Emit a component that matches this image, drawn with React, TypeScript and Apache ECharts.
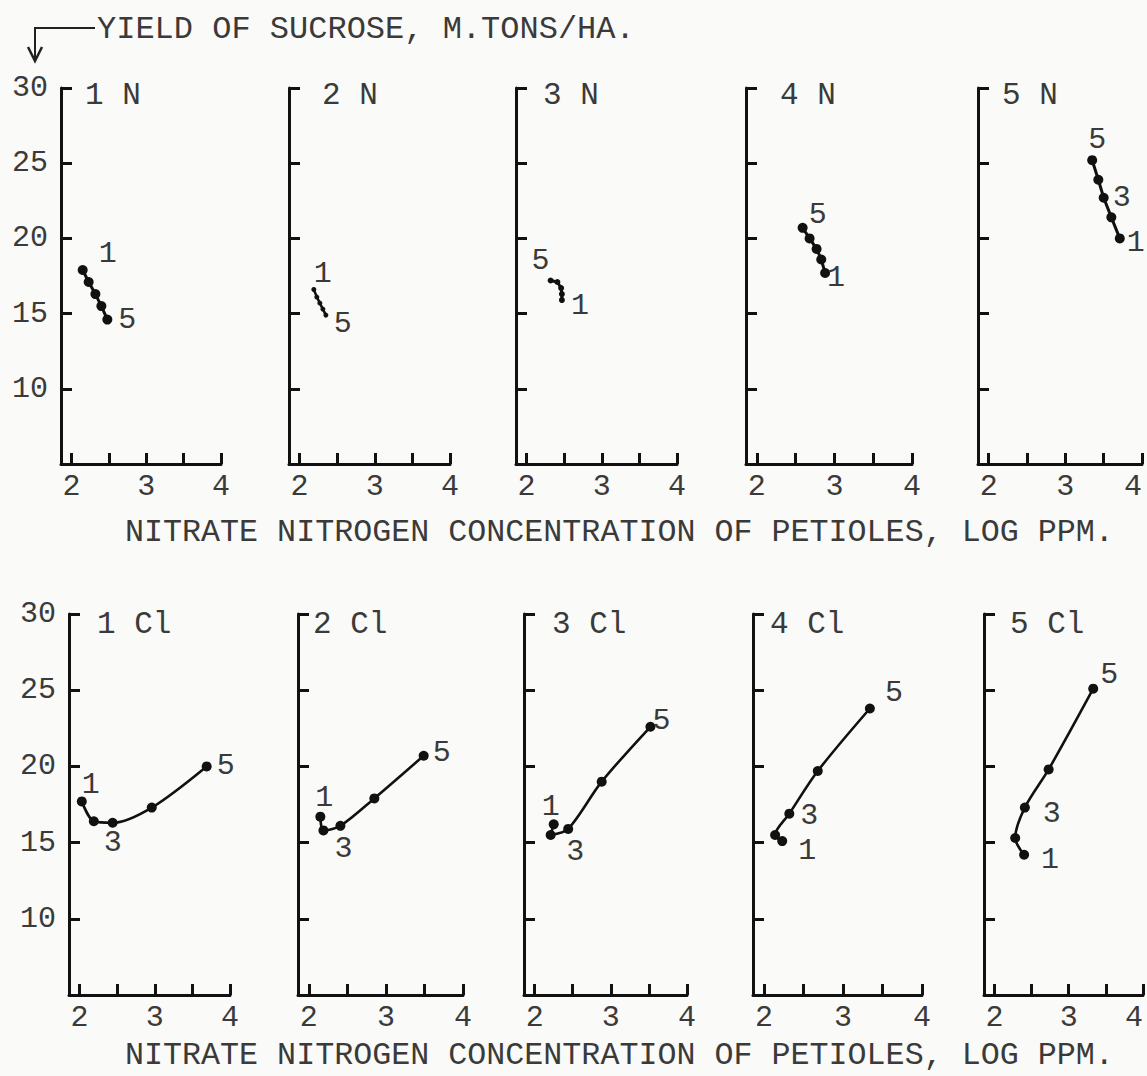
import React, { useEffect, useRef } from "react";
import * as echarts from "echarts";

// ---- data (x = log ppm nitrate N, y = sucrose yield t/ha), treatment levels 1..5 ----
const N1 = [[2.15, 17.9], [2.23, 17.1], [2.32, 16.3], [2.40, 15.5], [2.48, 14.6]];
const N2 = [[2.19, 16.6], [2.23, 16.1], [2.27, 15.7], [2.31, 15.3], [2.35, 14.9]];
const N3 = [[2.47, 15.9], [2.47, 16.3], [2.46, 16.7], [2.41, 17.1], [2.32, 17.2]];
const N4 = [[2.88, 17.7], [2.83, 18.6], [2.77, 19.3], [2.68, 20.0], [2.59, 20.7]];
const N5 = [[3.71, 20.0], [3.60, 21.4], [3.50, 22.7], [3.43, 23.9], [3.35, 25.2]];
const CL1 = [[2.03, 17.7], [2.19, 16.4], [2.44, 16.3], [2.96, 17.3], [3.69, 20.0]];
const CL2 = [[2.15, 16.7], [2.19, 15.8], [2.41, 16.1], [2.85, 17.9], [3.49, 20.7]];
const CL3 = [[2.25, 16.2], [2.21, 15.5], [2.44, 15.9], [2.88, 19.0], [3.52, 22.6]];
const CL4 = [[2.23, 15.1], [2.14, 15.5], [2.32, 16.9], [2.68, 19.7], [3.34, 23.8]];
const CL5 = [[2.40, 14.2], [2.28, 15.3], [2.41, 17.3], [2.73, 19.8], [3.33, 25.1]];

const topNames = ["1 N", "2 N", "3 N", "4 N", "5 N"];
const botNames = ["1 Cl", "2 Cl", "3 Cl", "4 Cl", "5 Cl"];
const yTicks = [10, 15, 20, 25, 30];
const xTicks = [2, 2.5, 3, 3.5, 4];
const xLabels = [2, 3, 4];
const TITLE = "YIELD OF SUCROSE, M.TONS/HA.";
const XTITLE = "NITRATE NITROGEN CONCENTRATION OF PETIOLES, LOG PPM.";

// which points carry a level label (index into series)
const topLabelIdx = [[0, 4], [0, 4], [4, 0], [4, 0], [4, 2, 0]];
const botLabelIdx = [[0, 2, 4], [0, 2, 4], [0, 2, 4], [4, 2, 0], [4, 2, 0]];

// ---- layout ----
const FONT = '"Liberation Mono", "DejaVu Sans Mono", monospace';
const INK = "#111";
const TXT = "#3a3a3a";
const X_MIN = 1.86;
const X_MAX = 4;
const topLefts = [61, 289, 516, 746, 978];
const topRights = [221, 450, 677, 912, 1142];
const botLefts = [69, 298, 524, 753, 984];
const botRights = [230, 463, 687, 922, 1143];
const topRow = { top: 88, bottom: 464 };
const botRow = { top: 614, bottom: 995 };
const topNameOffsets = [24, 33, 27, 34, 24];
const botNameOffsets = [28, 15, 28, 17, 26];
const topSymbol = [10, 5, 6, 10, 10];
const topLineW = [3, 2.5, 3, 3, 3];
const topLabelOff = [
  [[25, -16], [20, 0]],
  [[9, -16], [17, 9]],
  [[-10, -20], [18, 6]],
  [[15, -13], [11, 5]],
  [[5, -20], [18, 0], [16, 5]],
];
const botLabelOff = [
  [[9, -16], [0, 20], [19, 0]],
  [[4, -19], [3, 23], [18, -3]],
  [[-3, -17], [7, 23], [11, -6]],
  [[24, -15], [20, 2], [25, 10]],
  [[16, -14], [27, 6], [26, 5]],
];

export default function App() {
  const ref = useRef<HTMLDivElement>(null);
  useEffect(() => {
    if (!ref.current) return;
    const chart = echarts.init(ref.current, null, { renderer: "svg" });
    const topData = [N1, N2, N3, N4, N5];
    const botData = [CL1, CL2, CL3, CL4, CL5];
    const grids: any[] = [];
    const xAxes: any[] = [];
    const yAxes: any[] = [];
    const series: any[] = [];
    const graphics: any[] = [];

    const addPanel = (
      idx: number,
      col: number,
      left: number,
      right: number,
      row: { top: number; bottom: number },
      data: number[][],
      labelIdx: number[],
      labelOff: number[][],
      symbolSize: number,
      lineWidth: number,
      smooth: number | boolean,
      name: string,
      nameOffset: number,
      nameY: number
    ) => {
      grids.push({
        left,
        top: row.top,
        width: right - left,
        height: row.bottom - row.top,
        outerBoundsMode: "none",
        containLabel: false,
      });
      const xLabel: any = {
        show: true,
        customValues: xLabels,
        fontFamily: FONT,
        fontSize: 30,
        color: TXT,
        margin: 8,
      };
      if (col === 4) xLabel.alignMaxLabel = "right";
      xAxes.push({
        gridIndex: idx,
        type: "value",
        min: X_MIN,
        max: X_MAX,
        axisLine: { show: true, onZero: false, lineStyle: { color: INK, width: 3 } },
        axisTick: {
          show: true,
          inside: true,
          length: 11,
          customValues: xTicks,
          lineStyle: { color: INK, width: 3 },
        },
        axisLabel: xLabel,
        splitLine: { show: false },
      });
      yAxes.push({
        gridIndex: idx,
        type: "value",
        min: 5,
        max: 30,
        axisLine: { show: true, onZero: false, lineStyle: { color: INK, width: 3 } },
        axisTick: {
          show: true,
          inside: true,
          length: 11,
          customValues: yTicks,
          lineStyle: { color: INK, width: 3 },
        },
        axisLabel: {
          show: col === 0,
          customValues: yTicks,
          fontFamily: FONT,
          fontSize: 30,
          color: TXT,
          margin: 13,
        },
        splitLine: { show: false },
      });
      const items = data.map((p, i) => {
        const k = labelIdx.indexOf(i);
        const item: any = { value: p };
        if (k >= 0) {
          item.label = {
            show: true,
            formatter: String(i + 1),
            position: "inside",
            offset: labelOff[k],
            align: "center",
            verticalAlign: "middle",
            fontFamily: FONT,
            fontSize: 30,
            color: TXT,
          };
        }
        return item;
      });
      series.push({
        type: "line",
        xAxisIndex: idx,
        yAxisIndex: idx,
        data: items,
        smooth,
        symbol: "circle",
        symbolSize,
        showAllSymbol: true,
        lineStyle: { color: INK, width: lineWidth },
        itemStyle: { color: INK },
        label: { show: false },
        z: 5,
      });
      graphics.push({
        type: "text",
        x: left + nameOffset,
        y: nameY,
        style: {
          text: name,
          fontFamily: FONT,
          fontSize: 31,
          fill: TXT,
          verticalAlign: "middle",
        },
      });
    };

    for (let c = 0; c < 5; c++) {
      addPanel(
        c, c, topLefts[c], topRights[c], topRow, topData[c], topLabelIdx[c], topLabelOff[c],
        topSymbol[c], topLineW[c], false, topNames[c], topNameOffsets[c], 95
      );
    }
    for (let c = 0; c < 5; c++) {
      addPanel(
        5 + c, c, botLefts[c], botRights[c], botRow, botData[c], botLabelIdx[c], botLabelOff[c],
        10, 2.6, 0.3, botNames[c], botNameOffsets[c], 624
      );
    }

    // title with arrow
    graphics.push({
      type: "polyline",
      shape: { points: [[95, 28], [35, 28], [35, 58]] },
      style: { stroke: "#222", lineWidth: 2, fill: null },
    });
    graphics.push({
      type: "polyline",
      shape: { points: [[28, 47], [35, 61], [42, 47]] },
      style: { stroke: "#222", lineWidth: 2.5, fill: null },
    });
    graphics.push({
      type: "text",
      x: 97,
      y: 29,
      style: { text: TITLE, fontFamily: FONT, fontSize: 32, fill: TXT, verticalAlign: "middle" },
    });
    graphics.push({
      type: "text",
      x: 125,
      y: 533,
      style: { text: XTITLE, fontFamily: FONT, fontSize: 31.7, fill: TXT, verticalAlign: "middle" },
    });
    graphics.push({
      type: "text",
      x: 125,
      y: 1056,
      style: { text: XTITLE, fontFamily: FONT, fontSize: 31.7, fill: TXT, verticalAlign: "middle" },
    });

    chart.setOption({
      animation: false,
      backgroundColor: "#fafaf8",
      grid: grids,
      xAxis: xAxes,
      yAxis: yAxes,
      series,
      graphic: graphics,
    });
    return () => chart.dispose();
  }, []);
  return (
    <div
      ref={ref}
      style={{ position: "absolute", left: 0, top: 0, width: 1147, height: 1076 }}
    />
  );
}
